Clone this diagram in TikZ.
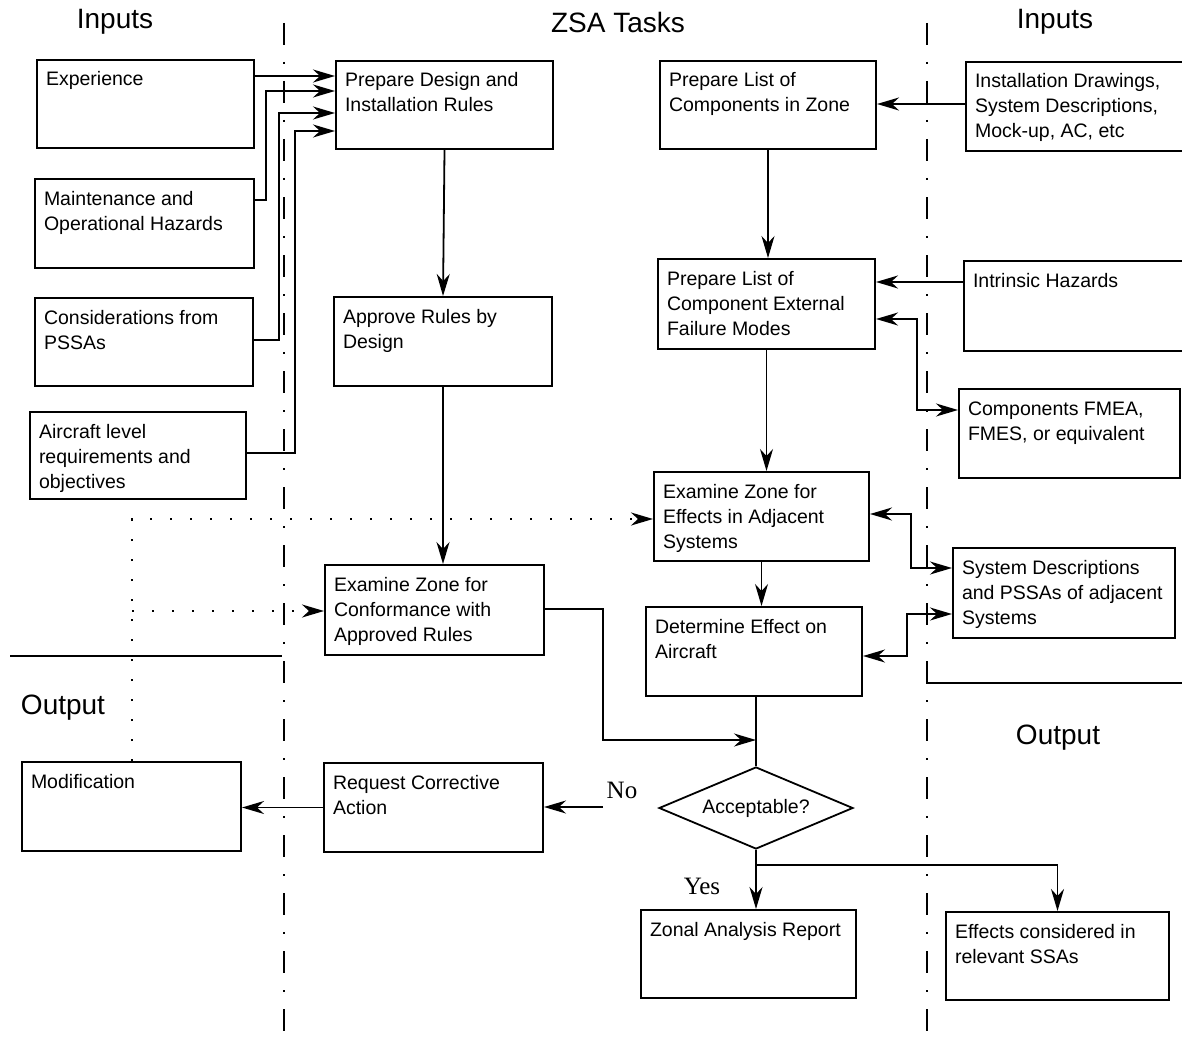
\documentclass[tikz,border=0pt]{standalone}
\usepackage{fontspec}
\setmainfont{Liberation Sans}
\newfontfamily\zserif{Liberation Serif}
\usetikzlibrary{arrows.meta,shapes.geometric}

% \zbox{name}{x1}{y1}{x2}{y2}{text}: framed box with text set at its top left
\newcommand\zbox[6]{%
  \pgfmathsetmacro\zw{#4-#2-18}%
  \pgfmathsetmacro\zh{#5-#3-17}%
  \node[box,anchor=north west] (#1) at (#2,#3)
    {\parbox[c][\zh pt][t]{\zw pt}{\raggedright\strut #6}};%
}

\begin{document}
\begin{tikzpicture}[x=1pt,y=-1pt,
  >={Stealth[length=22pt,width=13pt,inset=7pt]},
  box/.style={draw,line width=2pt,inner xsep=9pt,inner ysep=8.5pt,
    font=\fontsize{19.5}{25}\selectfont},
  head/.style={inner sep=0pt,font=\fontsize{28}{30}\selectfont},
  answer/.style={inner sep=0pt,font=\zserif\fontsize{25}{27}\selectfont},
  decision/.style={draw,diamond,line width=1.8pt,inner sep=0pt,aspect=2.37,
    minimum width=194pt,minimum height=82pt,font=\fontsize{19.5}{25}\selectfont},
  conn/.style={line width=1.8pt,->},
  thinconn/.style={line width=1.2pt,->},
  plain/.style={line width=1.8pt},
  both/.style={line width=1.8pt,<->},
  dotconn/.style={line width=2.2pt,dash pattern=on 2.2pt off 17.8pt,->},
  zone/.style={line width=1.6pt,dash pattern=on 22pt off 17pt on 2pt off 17pt},
  sep/.style={line width=2pt}]

\useasboundingbox (0,0) rectangle (1182,1043);
\clip (0,0) rectangle (1182,1043);

% column dividers and output separators
\draw[zone] (284,23) -- (284,1043);
\draw[zone] (927,23) -- (927,1043);
\draw[sep] (10,656) -- (282,656);
\draw[sep] (926,683) -- (1182,683);

% headings
\node[head] (hinl) at (115,22) {Inputs};
\node[head] (hzsa) at (618,22) {ZSA Tasks};
\node[head] (hinr) at (1055,22) {Inputs};
\node[head] (houtl) at (63,708) {Output};
\node[head] (houtr) at (1058,738) {Output};

% left inputs
\zbox{exp}{36}{59}{253}{147}{Experience}
\zbox{maint}{34}{178}{253}{267}{Maintenance and\\Operational Hazards}
\zbox{cons}{34}{297}{252}{385}{Considerations from\\PSSAs}
\zbox{air}{29}{411}{245}{498}{Aircraft level\\requirements and\\objectives}

% rules column
\zbox{prep}{335}{60}{552}{148}{Prepare Design and\\Installation Rules}
\zbox{appr}{333}{296}{551}{385}{Approve Rules by\\Design}
\zbox{conf}{324}{564}{543}{654}{Examine Zone for\\Conformance with\\Approved Rules}
\zbox{req}{323}{762}{542}{851}{Request Corrective\\Action}
\zbox{mod}{21}{761}{240}{850}{Modification}

% component column
\zbox{cl}{659}{60}{875}{148}{Prepare List of\\Components in Zone}
\zbox{ext}{657}{258}{874}{348}{Prepare List of\\Component External\\Failure Modes}
\zbox{eff}{653}{471}{868}{560}{Examine Zone for\\Effects in Adjacent\\Systems}
\zbox{det}{645}{606}{861}{695}{Determine Effect on\\Aircraft}
\node[decision] (dia) at (756,808) {Acceptable?};
\zbox{zar}{640}{909}{855}{997}{Zonal Analysis Report}

% right inputs and outputs
\zbox{inst}{965}{61}{1192}{150}{Installation Drawings,\\System Descriptions,\\Mock-up, AC, etc}
\zbox{intr}{963}{260}{1192}{350}{Intrinsic Hazards}
\zbox{fmea}{958}{388}{1179}{477}{Components FMEA,\\FMES, or equivalent}
\zbox{sysd}{952}{547}{1174}{637}{System Descriptions\\and PSSAs of adjacent\\Systems}
\zbox{eff2}{945}{911}{1168}{999}{Effects considered in\\relevant SSAs}

% answers at the decision
\node[answer] (no) at (622,790) {No};
\node[answer] (yes) at (702,886) {Yes};

% inputs to the design rules
\draw[conn] (exp.east |- 0,76) -- (prep.west |- 0,76);
\draw[conn] (maint.east |- 0,200) -| (266,91) -- (prep.west |- 0,91);
\draw[conn] (cons.east |- 0,340) -| (279,113) -- (prep.west |- 0,113);
\draw[conn] (air.east |- 0,453) -| (295,131) -- (prep.west |- 0,131);

% rules flow
\draw[conn] (prep.south) -- (appr.north);
\draw[conn] (appr.south) -- (appr.south |- conf.north);
\draw[conn] (conf.east |- 0,609) -| (603,740) -- (dia.north |- 0,740);

% component flow
\draw[conn] (inst.west |- 0,104) -- (cl.east |- 0,104);
\draw[thinconn] (cl.south) -- (cl.south |- ext.north);
\draw[conn] (intr.west |- 0,282) -- (ext.east |- 0,282);
\draw[both] (ext.east |- 0,319) -| (917,410) -- (fmea.west |- 0,410);
\draw[thinconn] (ext.south) -- (ext.south |- eff.north);
\draw[both] (eff.east |- 0,514) -| (911,568) -- (sysd.west |- 0,568);
\draw[thinconn] (eff.south) -- (eff.south |- det.north);
\draw[both] (det.east |- 0,656) -| (907,614) -- (sysd.west |- 0,614);
\draw[line width=1.2pt] (dia.north |- det.south) -- (dia.north);

% decision outcomes
\coordinate (nostart) at (603,807);
\draw[conn] (nostart) -- (req.east |- nostart);
\draw[conn] (req.west) -- (mod.east |- req.west);
\coordinate (yj) at (dia.south |- 0,865);
\draw[conn] (dia.south) -- (dia.south |- zar.north);
\draw[conn] (yj) -| (eff2.north);

% feedback from modification
\coordinate (dj) at (132,611);
\draw[dotconn] (mod.north -| 132,0) |- (eff.west |- 0,519);
\draw[dotconn] (dj) -- (conf.west |- dj);

\end{tikzpicture}
\end{document}
